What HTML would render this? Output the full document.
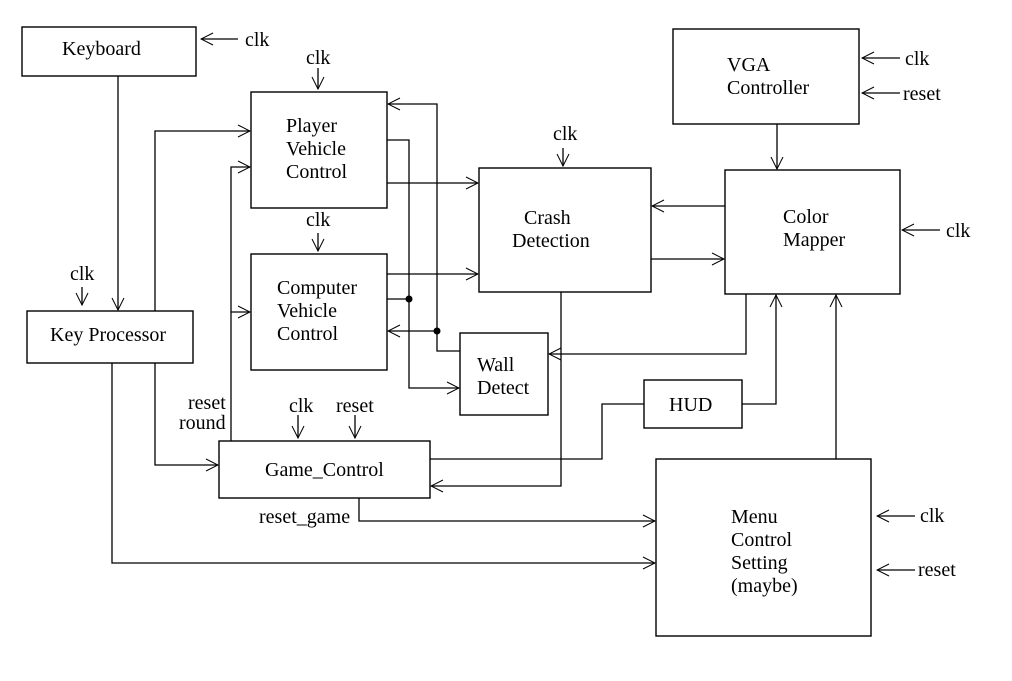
<!DOCTYPE html>
<html><head><style>body{margin:0;background:#fff}svg{display:block}</style></head><body>
<svg width="1012" height="681" xmlns="http://www.w3.org/2000/svg">
<defs><marker id="a" markerWidth="14" markerHeight="14" refX="13" refY="7" orient="auto" markerUnits="userSpaceOnUse"><path d="M1,1 L13,7 L1,13" fill="none" stroke="#000" stroke-width="1"/></marker></defs>
<g fill="none" stroke="#000" stroke-width="1.4">
<rect x="22" y="27" width="174" height="49"/>
<rect x="251" y="92" width="136" height="116"/>
<rect x="251" y="254" width="136" height="116"/>
<rect x="27" y="311" width="166" height="52"/>
<rect x="219" y="441" width="211" height="57"/>
<rect x="479" y="168" width="172" height="124"/>
<rect x="460" y="333" width="88" height="82"/>
<rect x="644" y="380" width="98" height="48"/>
<rect x="673" y="29" width="186" height="95"/>
<rect x="725" y="170" width="175" height="124"/>
<rect x="656" y="459" width="215" height="177"/>
</g>
<g fill="none" stroke="#000" stroke-width="1.3" marker-end="url(#a)">
<path d="M238 39H201"/>
<path d="M118 76V310"/>
<path d="M82 287V305"/>
<path d="M318 68V89"/>
<path d="M318 233V251"/>
<path d="M155 311V131H250"/>
<path d="M155 363V465H218"/>
<path d="M112 363V563H655"/>
<path d="M231 441V167H250"/>
<path d="M231 312H250"/>
<path d="M387 140H409V388H459"/>
<path d="M387 183H478"/>
<path d="M387 274H478"/>
<path d="M460 351H437V104H388"/>
<path d="M437 331H388"/>
<path d="M563 148V166"/>
<path d="M725 206H652"/>
<path d="M651 259H724"/>
<path d="M777 124V169"/>
<path d="M900 58H862"/>
<path d="M900 93H862"/>
<path d="M940 230H902"/>
<path d="M746 294V354H549"/>
<path d="M742 404H776V295"/>
<path d="M836 459V295"/>
<path d="M561 292V486H431"/>
<path d="M359 498V521H655"/>
<path d="M298 415V438"/>
<path d="M355 415V438"/>
<path d="M915 516H877"/>
<path d="M915 570H877"/>
</g>
<path d="M387 299H409M644 404H602V459H430" fill="none" stroke="#000" stroke-width="1.3"/>
<circle cx="409" cy="299" r="3.5"/><circle cx="437" cy="331" r="3.5"/>
<g font-family="Liberation Serif, serif" font-size="20" fill="#000">
<text x="62" y="55">Keyboard</text>
<text x="245" y="46">clk</text>
<text x="70" y="280">clk</text>
<text x="50" y="341">Key Processor</text>
<text x="306" y="64">clk</text>
<text x="286" y="132">Player</text><text x="286" y="155">Vehicle</text><text x="286" y="178">Control</text>
<text x="306" y="226">clk</text>
<text x="277" y="294">Computer</text><text x="277" y="317">Vehicle</text><text x="277" y="340">Control</text>
<text x="188" y="409">reset</text><text x="179" y="429">round</text>
<text x="289" y="412">clk</text><text x="336" y="412">reset</text>
<text x="265" y="476">Game_Control</text>
<text x="259" y="523">reset_game</text>
<text x="553" y="140">clk</text>
<text x="524" y="224">Crash</text><text x="512" y="247">Detection</text>
<text x="477" y="371">Wall</text><text x="477" y="394">Detect</text>
<text x="669" y="411">HUD</text>
<text x="727" y="71">VGA</text><text x="727" y="94">Controller</text>
<text x="905" y="65">clk</text><text x="903" y="100">reset</text>
<text x="783" y="223">Color</text><text x="783" y="246">Mapper</text>
<text x="946" y="237">clk</text>
<text x="731" y="523">Menu</text><text x="731" y="546">Control</text><text x="731" y="569">Setting</text><text x="731" y="592">(maybe)</text>
<text x="920" y="522">clk</text><text x="918" y="576">reset</text>
</g>
</svg>
</body></html>
